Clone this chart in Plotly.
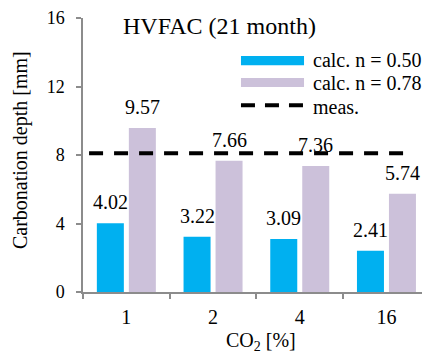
import plotly.graph_objects as go

# CO2 concentration categories and carbonation depths (mm)
co2_levels = ["1", "2", "4", "16"]
calc_n050 = [4.02, 3.22, 3.09, 2.41]
calc_n078 = [9.57, 7.66, 7.36, 5.74]
meas_depth = 8.1
y_ticks = [0, 4, 8, 12, 16]

BLUE = "#00B0F0"
LILAC = "#CCC1DA"
AXIS = "#8C8C8C"
FONT = "Liberation Serif"

fig = go.Figure()
fig.add_trace(go.Bar(x=co2_levels, y=calc_n050, name="calc. n = 0.50",
                     marker=dict(color=BLUE, line=dict(width=0)), showlegend=False))
fig.add_trace(go.Bar(x=co2_levels, y=calc_n078, name="calc. n = 0.78",
                     marker=dict(color=LILAC, line=dict(width=0)), showlegend=False))

# measured depth as a dashed horizontal line
fig.add_shape(type="line", xref="x", yref="y", x0=-0.43, x1=3.25,
              y0=meas_depth, y1=meas_depth,
              line=dict(color="black", width=4, dash="14px,11px"))

# value labels above each bar (category index positions, shifted onto each bar)
annotations = []
for series, shift in ((calc_n050, -16), (calc_n078, 16)):
    for idx, val in enumerate(series):
        annotations.append(dict(x=idx, y=val, xref="x", yref="y", text=f"{val:.2f}",
                                showarrow=False, xanchor="center", yanchor="bottom",
                                xshift=shift, yshift=8,
                                font=dict(family=FONT, size=20, color="black")))

# chart title
annotations.append(dict(x=0.403, y=0.971, xref="paper", yref="paper",
                        text="HVFAC (21 month)", showarrow=False,
                        xanchor="center", yanchor="middle",
                        font=dict(family=FONT, size=24, color="black")))
# axis titles
annotations.append(dict(x=-0.186, y=0.518, xref="paper", yref="paper",
                        text="Carbonation depth [mm]", textangle=-90, showarrow=False,
                        xanchor="center", yanchor="middle",
                        font=dict(family=FONT, size=20, color="black")))
annotations.append(dict(x=0.525, y=-0.182, xref="paper", yref="paper",
                        text="CO<sub>2</sub> [%]", showarrow=False,
                        xanchor="center", yanchor="middle",
                        font=dict(family=FONT, size=20, color="black")))

# legend drawn by hand: wide swatches and a dashed sample
legend_x0, legend_x1, text_x = 0.466, 0.652, 0.673
fig.add_shape(type="rect", xref="paper", yref="paper", x0=legend_x0, x1=legend_x1,
              y0=0.828, y1=0.861, fillcolor=BLUE, line=dict(width=0))
fig.add_shape(type="rect", xref="paper", yref="paper", x0=legend_x0, x1=legend_x1,
              y0=0.748, y1=0.781, fillcolor=LILAC, line=dict(width=0))
fig.add_shape(type="line", xref="paper", yref="paper", x0=legend_x0, x1=legend_x1,
              y0=0.682, y1=0.682, line=dict(color="black", width=4, dash="14px,10px"))
for label, yy in (("calc. n = 0.50", 0.847), ("calc. n = 0.78", 0.763), ("meas.", 0.675)):
    annotations.append(dict(x=text_x, y=yy, xref="paper", yref="paper", text=label,
                            showarrow=False, xanchor="left", yanchor="middle",
                            font=dict(family=FONT, size=20, color="black")))

fig.update_layout(
    width=422, height=354,
    margin=dict(l=83, r=0, t=18, b=62),
    paper_bgcolor="white", plot_bgcolor="white",
    barmode="group", bargap=0.262, bargroupgap=0.156,
    annotations=annotations,
    font=dict(family=FONT, color="black"),
)
fig.update_xaxes(
    type="category", range=[-0.5, 3.41],
    showline=True, linecolor=AXIS, linewidth=1.5,
    ticks="outside", tickson="boundaries", ticklen=5, tickcolor=AXIS, tickwidth=1.5,
    tickfont=dict(family=FONT, size=20, color="black"),
    showgrid=False, zeroline=False, ticklabelstandoff=6,
)
fig.update_yaxes(
    range=[0, 16], tickvals=y_ticks,
    showline=True, linecolor=AXIS, linewidth=1.5,
    ticks="outside", ticklen=5, tickcolor=AXIS, tickwidth=1.5,
    tickfont=dict(family=FONT, size=18, color="black"),
    showgrid=False, zeroline=False, ticklabelstandoff=8,
)

fig.write_html("out.html")
